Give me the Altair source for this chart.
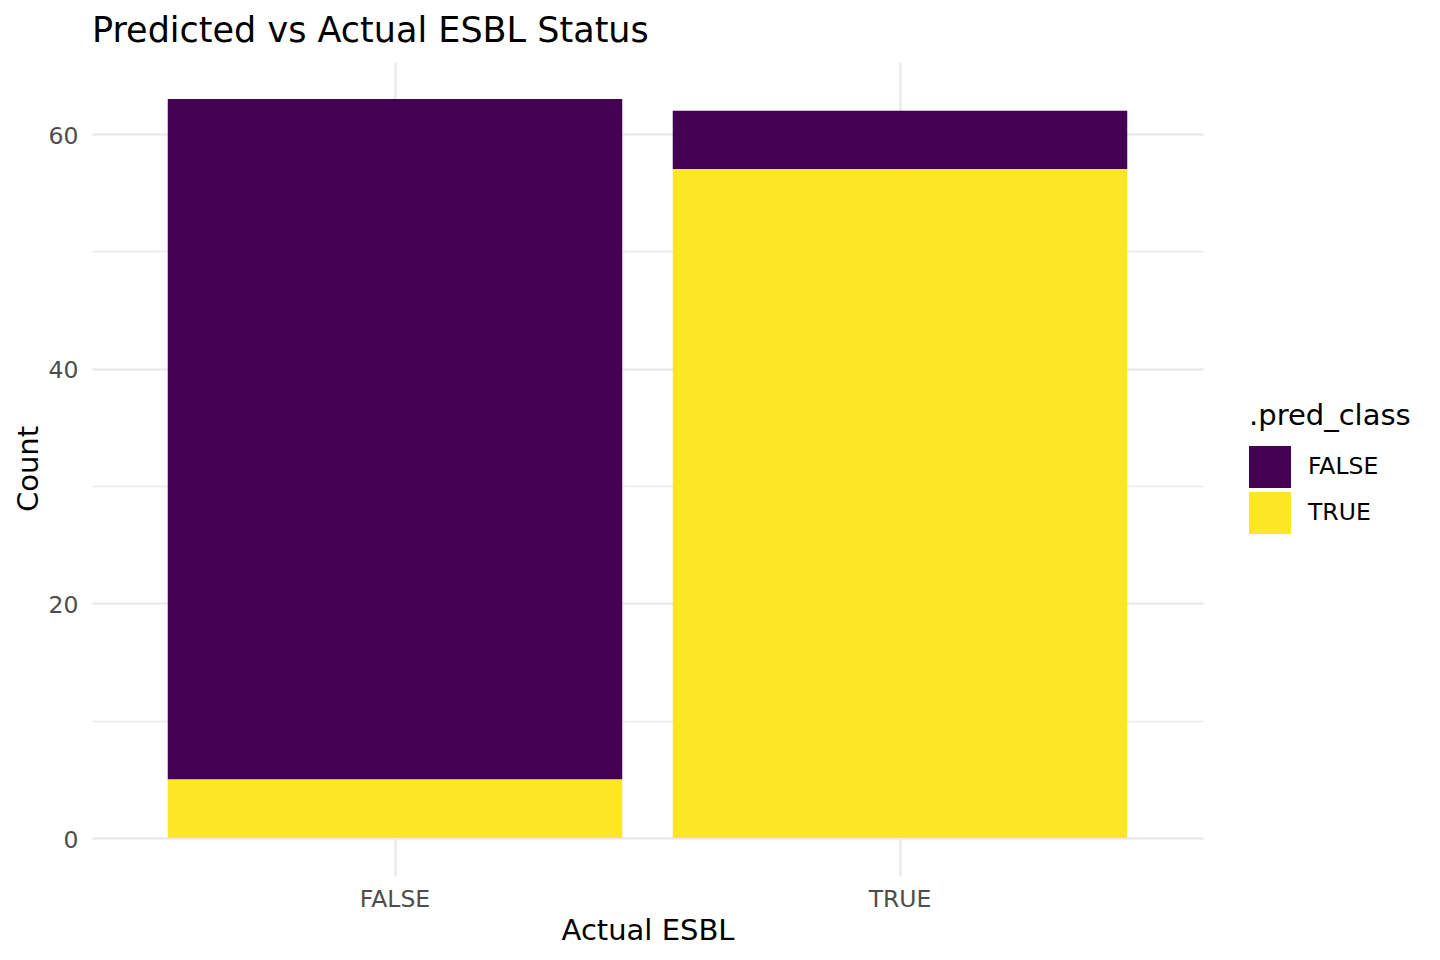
import altair as alt
import pandas as pd

actual = ["FALSE", "FALSE", "TRUE", "TRUE"]
pred_class = ["FALSE", "TRUE", "FALSE", "TRUE"]
counts = [58, 5, 5, 57]
categories = ["FALSE", "TRUE"]
colors = ["#440154", "#FDE725"]
y_ticks = [0, 10, 20, 30, 40, 50, 60]

df = pd.DataFrame({"actual": actual, "pred": pred_class, "count": counts})

FONT = "DejaVu Sans"

chart = alt.Chart(df).mark_bar().encode(
    x=alt.X("actual:N", sort=categories, title="Actual ESBL",
            scale=alt.Scale(paddingInner=0.1, paddingOuter=0.15),
            axis=alt.Axis(labelAngle=0, bandPosition=0.5, grid=True,
                          gridColor="#EBEBEB", gridWidth=2.7,
                          ticks=False, domain=False,
                          labelFontSize=23.5, labelColor="#4D4D4D",
                          labelPadding=12, titleFontSize=29,
                          titleFontWeight="normal", titleColor="#000000",
                          titlePadding=6)),
    y=alt.Y("count:Q", stack="zero", title="Count",
            scale=alt.Scale(domain=[-3.15, 66.15], nice=False, zero=False),
            axis=alt.Axis(values=y_ticks,
                          labelExpr="datum.value % 20 === 0 ? datum.label : ''",
                          gridColor="#EBEBEB",
                          gridWidth={"condition": {"test": "datum.value % 20 === 0", "value": 2.7}, "value": 1.3},
                          ticks=False, domain=False,
                          labelFontSize=23.5, labelColor="#4D4D4D",
                          labelPadding=14, labelOffset=2, titleFontSize=29,
                          titleFontWeight="normal", titleColor="#000000",
                          titlePadding=5)),
    color=alt.Color("pred:N", title=".pred_class",
                    scale=alt.Scale(domain=categories, range=colors),
                    legend=alt.Legend(orient="none", legendX=1157, legendY=340,
                                      symbolType="square", symbolSize=1764,
                                      symbolStrokeWidth=0, symbolOpacity=1,
                                      rowPadding=4, labelOffset=17,
                                      labelFontSize=23.5, labelColor="#000000",
                                      titleFontSize=29, titleFontWeight="normal",
                                      titleColor="#000000", titlePadding=15)),
    order=alt.Order("pred:N", sort="descending"),
).properties(
    width=1111,
    height=813,
    title=alt.TitleParams("Predicted vs Actual ESBL Status", anchor="start",
                          frame="group", fontSize=35, fontWeight="normal",
                          color="#000000", offset=13),
    autosize=alt.AutoSizeParams(type="none"),
    padding={"left": 84, "top": 54, "right": 220, "bottom": 76},
).configure(
    font=FONT,
    background="#FFFFFF",
).configure_view(
    stroke=None,
)

chart.save("out.html", embed_options={"renderer": "svg", "actions": False})
